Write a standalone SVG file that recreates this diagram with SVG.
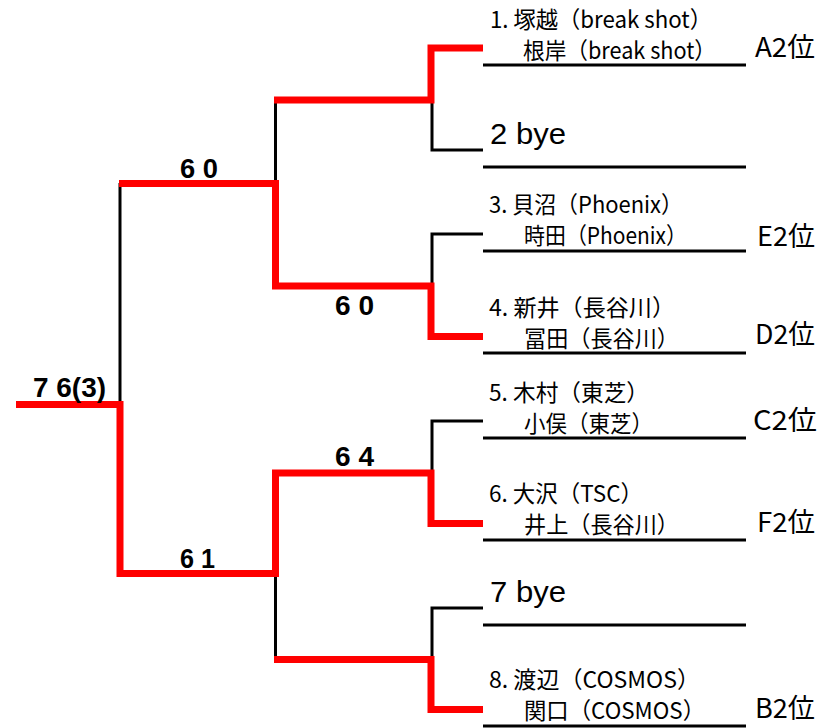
<svg xmlns="http://www.w3.org/2000/svg" width="821" height="728" viewBox="0 0 821 728">
<style>
.bg{fill:#fff}
.red{fill:none;stroke:#ff0000;stroke-width:7;stroke-linejoin:miter;stroke-linecap:butt}
.blk{fill:none;stroke:#000;stroke-width:3;stroke-linecap:butt}
.pl{stroke:#000;stroke-width:3}
.nm{font-family:"Noto Sans CJK JP","Liberation Sans",sans-serif;font-size:23px;fill:#000}
.rk{font-family:"Noto Sans CJK JP","Liberation Sans",sans-serif;font-size:27px;fill:#000}
.bye{font-family:"Liberation Sans","Noto Sans CJK JP",sans-serif;font-size:30px;fill:#000}
.sc{font-family:"Liberation Sans",sans-serif;font-size:28px;font-weight:bold;fill:#000}
</style>
<rect class="bg" x="0" y="0" width="821" height="728"/>
<g id="connectors">
<path class="blk" d="M483,150 H432 V100"/>
<path class="blk" d="M483,234 H432 V286"/>
<path class="blk" d="M483,421 H432 V473"/>
<path class="blk" d="M483,608 H432 V659"/>
<path class="blk" d="M275.5,100 V183"/>
<path class="blk" d="M275.5,573 V659"/>
<path class="blk" d="M120,183 V404"/>
<path class="red" d="M483,48 H431 V100 H274"/>
<path class="red" d="M119,183.5 H275.5 V286 H431 V336.5 H483"/>
<path class="red" d="M16,404.5 H120 V573.5 H275.5 V473 H431 V523.5 H483"/>
<path class="red" d="M274,659.5 H431 V709.5 H483"/>
</g>
<g id="scores">
<text class="sc" x="180" y="178" textLength="38" lengthAdjust="spacingAndGlyphs">6 0</text>
<text class="sc" x="335" y="315" textLength="39" lengthAdjust="spacingAndGlyphs">6 0</text>
<text class="sc" x="33" y="397" textLength="73" lengthAdjust="spacingAndGlyphs">7 6(3)</text>
<text class="sc" x="335" y="466" textLength="39" lengthAdjust="spacingAndGlyphs">6 4</text>
<text class="sc" x="180" y="568" textLength="35" lengthAdjust="spacingAndGlyphs">6 1</text>
</g>
<g id="p1">
<line class="pl" x1="483" y1="65" x2="746" y2="65"/>
<text class="nm" x="490" y="28" textLength="222" lengthAdjust="spacingAndGlyphs">1. 塚越（break shot）</text>
<text class="nm" x="523" y="59" textLength="193" lengthAdjust="spacingAndGlyphs">根岸（break shot）</text>
<text class="rk" x="755" y="57" textLength="60" lengthAdjust="spacingAndGlyphs">A2位</text>
</g>
<g id="p2">
<line class="pl" x1="483" y1="167" x2="746" y2="167"/>
<text class="bye" x="490" y="144" textLength="76" lengthAdjust="spacingAndGlyphs">2 bye</text>
</g>
<g id="p3">
<line class="pl" x1="483" y1="251" x2="746" y2="251"/>
<text class="nm" x="489" y="213" textLength="194" lengthAdjust="spacingAndGlyphs">3. 貝沼（Phoenix）</text>
<text class="nm" x="524" y="244" textLength="163" lengthAdjust="spacingAndGlyphs">時田（Phoenix）</text>
<text class="rk" x="757" y="246" textLength="58" lengthAdjust="spacingAndGlyphs">E2位</text>
</g>
<g id="p4">
<line class="pl" x1="483" y1="353" x2="746" y2="353"/>
<text class="nm" x="489" y="316" textLength="186" lengthAdjust="spacingAndGlyphs">4. 新井（長谷川）</text>
<text class="nm" x="524" y="347" textLength="155" lengthAdjust="spacingAndGlyphs">冨田（長谷川）</text>
<text class="rk" x="755" y="344" textLength="60" lengthAdjust="spacingAndGlyphs">D2位</text>
</g>
<g id="p5">
<line class="pl" x1="483" y1="438" x2="746" y2="438"/>
<text class="nm" x="489" y="401" textLength="160" lengthAdjust="spacingAndGlyphs">5. 木村（東芝）</text>
<text class="nm" x="524" y="432" textLength="129" lengthAdjust="spacingAndGlyphs">小俣（東芝）</text>
<text class="rk" x="753" y="430" textLength="64" lengthAdjust="spacingAndGlyphs">C2位</text>
</g>
<g id="p6">
<line class="pl" x1="483" y1="540" x2="746" y2="540"/>
<text class="nm" x="489" y="502" textLength="154" lengthAdjust="spacingAndGlyphs">6. 大沢（TSC）</text>
<text class="nm" x="524" y="533" textLength="155" lengthAdjust="spacingAndGlyphs">井上（長谷川）</text>
<text class="rk" x="757" y="532" textLength="58" lengthAdjust="spacingAndGlyphs">F2位</text>
</g>
<g id="p7">
<line class="pl" x1="483" y1="625" x2="746" y2="625"/>
<text class="bye" x="490" y="602" textLength="76" lengthAdjust="spacingAndGlyphs">7 bye</text>
</g>
<g id="p8">
<line class="pl" x1="483" y1="726" x2="746" y2="726"/>
<text class="nm" x="489" y="688" textLength="211" lengthAdjust="spacingAndGlyphs">8. 渡辺（COSMOS）</text>
<text class="nm" x="524" y="719" textLength="181" lengthAdjust="spacingAndGlyphs">関口（COSMOS）</text>
<text class="rk" x="755" y="718" textLength="60" lengthAdjust="spacingAndGlyphs">B2位</text>
</g>
</svg>
